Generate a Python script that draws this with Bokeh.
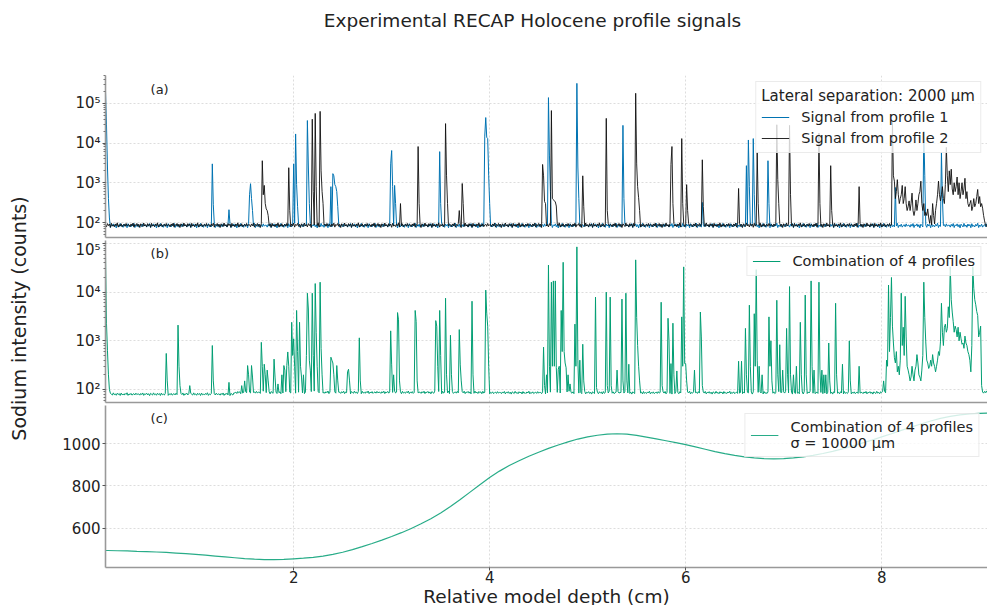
import math
from bokeh.plotting import figure
from bokeh.layouts import column, row
from bokeh.models import (Range1d, FixedTicker, CustomJSTickFormatter, Label,
                          Legend, LegendItem)
from bokeh.embed import file_html
from bokeh.resources import INLINE

# ---------------- data ----------------
X_START = 0.08
X_STEP = 0.01
N_POINTS = 901  # 0.08 .. 9.08 cm

# hand-read baseline jitter (relative), cycled along the profile
BASE_JITTER = [1.02, 0.91, 1.07, 0.96, 1.12, 0.89, 1.04, 0.98, 1.10, 0.93, 1.05,
               0.87, 1.08, 1.00, 0.92, 1.13, 0.95, 1.03, 0.90, 1.09, 0.97, 1.06,
               0.88, 1.11, 0.94, 1.01, 0.92, 1.07, 0.97, 1.14, 0.89, 1.03, 0.95,
               1.08, 0.91, 1.00, 1.05, 0.93, 1.10, 0.96, 1.02]

PROFILE1_BASE = 84
PROFILE2_BASE = 86
COMBINED_BASE = [(0.08, 80), (1.40, 87), (4.00, 86), (8.00, 88)]

# (depth cm, counts), blue
PROFILE1_PEAKS = [
    (0.08, 200000), (0.09, 30000), (0.10, 2500), (0.11, 400), (0.12, 130),
    (1.17, 3000), (1.18, 280), (1.34, 210),
    (1.55, 500), (1.56, 950), (1.57, 400), (1.58, 200),
    (2.00, 3000), (2.02, 17000), (2.03, 900), (2.04, 250),
    (2.14, 37000), (2.15, 2500), (2.16, 300),
    (2.38, 800), (2.40, 1700), (2.41, 1500), (2.42, 900), (2.43, 800), (2.44, 600), (2.45, 250),
    (2.99, 3000), (3.00, 6500), (3.01, 800), (3.03, 860), (3.04, 300),
    (3.49, 6100), (3.50, 300),
    (3.95, 15000), (3.96, 44000), (3.97, 14000), (3.98, 13000), (3.99, 1500), (4.00, 300),
    (4.60, 140000), (4.61, 5000), (4.62, 600),
    (4.89, 320000), (4.90, 2500), (4.91, 400),
    (5.36, 28000), (5.37, 400),
    (6.17, 320),
    (6.62, 2700), (6.64, 12000), (6.65, 800), (6.69, 13000), (6.70, 500),
    (6.84, 3600), (6.85, 300),
    (8.14, 760), (8.43, 20000), (8.44, 1500), (8.61, 5800), (8.62, 400),
]

# panel (a), black
PROFILE2_PEAKS = [
    (1.68, 3600), (1.69, 500), (1.70, 860), (1.71, 300), (1.72, 220), (1.73, 200), (1.74, 150),
    (1.95, 2400), (1.96, 200),
    (2.19, 40000), (2.20, 600), (2.22, 56000), (2.23, 800), (2.27, 63000), (2.28, 2000),
    (2.29, 600), (2.30, 300),
    (3.09, 300), (3.27, 8200), (3.28, 300),
    (3.55, 31000), (3.56, 1500), (3.57, 300),
    (3.69, 200), (3.72, 960), (3.73, 300),
    (4.54, 2900), (4.55, 1500), (4.56, 340), (4.57, 300),
    (4.63, 66000), (4.64, 400), (4.65, 380), (4.66, 350), (4.67, 330), (4.68, 260),
    (4.95, 1500), (4.96, 250),
    (5.19, 42000), (5.20, 200),
    (5.49, 180000), (5.50, 3000), (5.51, 800), (5.52, 420), (5.53, 200),
    (5.85, 2900), (5.86, 8200), (5.87, 300),
    (5.96, 13000), (5.97, 300), (6.01, 900), (6.02, 200),
    (6.17, 3800), (6.18, 250), (6.54, 720),
    (6.73, 5800), (6.74, 300),
    (6.93, 29000), (6.94, 1200), (6.95, 300),
    (7.06, 28000), (7.07, 500),
    (7.36, 18000), (7.37, 300),
    (7.48, 2700), (7.49, 200), (7.77, 800),
    (8.11, 33000), (8.12, 1500), (8.13, 1100), (8.14, 400), (8.15, 600), (8.16, 1200),
    (8.17, 500), (8.18, 300), (8.19, 400), (8.20, 500), (8.21, 860), (8.22, 300),
    (8.23, 400), (8.24, 800), (8.25, 300), (8.26, 200), (8.27, 250), (8.28, 350),
    (8.29, 200), (8.30, 300), (8.31, 550), (8.32, 200), (8.33, 150), (8.34, 200),
    (8.35, 370), (8.36, 200), (8.37, 300), (8.38, 500), (8.39, 600), (8.40, 1100),
    (8.41, 300), (8.42, 200), (8.43, 300), (8.44, 150), (8.45, 180), (8.46, 150),
    (8.47, 220), (8.48, 130), (8.50, 150), (8.52, 300), (8.53, 150), (8.55, 200),
    (8.56, 300), (8.57, 500), (8.58, 1100), (8.59, 500), (8.60, 350), (8.61, 500),
    (8.62, 800), (8.63, 400), (8.64, 300), (8.65, 900), (8.66, 7800), (8.67, 1500),
    (8.68, 600), (8.69, 2000), (8.70, 900), (8.71, 2200), (8.72, 700), (8.73, 500),
    (8.74, 1000), (8.75, 600), (8.76, 800), (8.77, 1400), (8.78, 500), (8.79, 1000),
    (8.80, 400), (8.81, 600), (8.82, 1000), (8.83, 500), (8.84, 700), (8.85, 1300),
    (8.86, 400), (8.87, 600), (8.88, 300), (8.89, 250), (8.90, 300), (8.91, 360),
    (8.92, 200), (8.93, 250), (8.94, 400), (8.95, 250), (8.96, 300), (8.97, 450),
    (8.98, 680), (8.99, 300), (9.00, 450), (9.01, 250), (9.02, 300), (9.03, 230),
    (9.04, 150), (9.05, 110),
]

# panel (b), green
COMBINED_PEAKS = [
    (0.08, 57000), (0.09, 2300), (0.10, 640), (0.11, 200), (0.12, 100),
    (0.70, 550), (0.71, 150), (0.82, 2100), (0.83, 300), (0.84, 120), (0.94, 120),
    (1.17, 800), (1.18, 150), (1.34, 140), (1.47, 120), (1.50, 150),
    (1.53, 310), (1.54, 200), (1.57, 310), (1.58, 180),
    (1.67, 930), (1.68, 300), (1.70, 330), (1.71, 200), (1.73, 250), (1.74, 150),
    (1.80, 420), (1.81, 180), (1.84, 130),
    (1.88, 200), (1.90, 310), (1.91, 250), (1.93, 310), (1.94, 590), (1.95, 300),
    (1.98, 2400), (1.99, 500), (2.00, 1100), (2.01, 300), (2.03, 4200), (2.04, 600),
    (2.06, 2400), (2.07, 300), (2.08, 180), (2.10, 200),
    (2.13, 500), (2.14, 9500), (2.15, 4500), (2.16, 400), (2.17, 250), (2.19, 9500),
    (2.20, 500), (2.22, 15000), (2.23, 1500), (2.24, 300), (2.27, 16000), (2.28, 700),
    (2.29, 200),
    (2.38, 460), (2.39, 400), (2.40, 350), (2.41, 200), (2.44, 310), (2.45, 150),
    (2.55, 230), (2.56, 260), (2.57, 150), (2.67, 1150), (2.68, 150),
    (2.99, 1600), (3.00, 320), (3.02, 200), (3.06, 3800), (3.07, 2700), (3.08, 150),
    (3.24, 4200), (3.25, 2500), (3.26, 150),
    (3.45, 2600), (3.46, 2000), (3.47, 300), (3.49, 4200), (3.50, 500),
    (3.55, 7500), (3.56, 200), (3.60, 1300), (3.61, 200),
    (3.69, 1700), (3.70, 320), (3.71, 150), (3.82, 6500), (3.83, 200),
    (3.96, 11000), (3.97, 3700), (3.98, 2000), (3.99, 300),
    (4.55, 740), (4.56, 120), (4.58, 200), (4.60, 36000), (4.61, 300), (4.63, 16000),
    (4.64, 300), (4.65, 17000), (4.66, 300), (4.67, 17000), (4.68, 280), (4.70, 260),
    (4.71, 300), (4.73, 4200), (4.74, 600), (4.75, 41000), (4.76, 600), (4.77, 350),
    (4.78, 280), (4.80, 200), (4.82, 130),
    (4.87, 2200), (4.88, 300), (4.89, 85000), (4.90, 400), (4.92, 400), (4.95, 850),
    (4.96, 150),
    (5.08, 7900), (5.09, 110), (5.19, 10000), (5.20, 120), (5.23, 7900), (5.24, 120),
    (5.30, 250), (5.35, 7200), (5.36, 150), (5.39, 9500), (5.40, 150), (5.42, 330),
    (5.49, 46000), (5.50, 3000), (5.51, 800), (5.52, 300), (5.53, 150),
    (5.75, 6200), (5.76, 120), (5.82, 2900), (5.83, 1000), (5.85, 340), (5.87, 2300),
    (5.88, 200), (5.91, 240), (5.96, 3100), (5.97, 300), (5.98, 33000), (5.99, 340),
    (6.00, 340), (6.01, 150), (6.09, 250), (6.15, 3900), (6.16, 1200), (6.17, 120),
    (6.54, 380), (6.57, 380), (6.61, 1800), (6.62, 200), (6.65, 5400), (6.66, 300),
    (6.70, 3600), (6.71, 300), (6.72, 29000), (6.73, 400), (6.75, 300), (6.78, 200),
    (6.85, 3100), (6.86, 300), (6.87, 1000), (6.88, 150), (6.93, 6800), (6.94, 200),
    (6.96, 830), (6.99, 250), (7.03, 1800), (7.04, 200), (7.06, 13000), (7.07, 200),
    (7.10, 200), (7.13, 300), (7.17, 2400), (7.18, 200), (7.22, 8700), (7.23, 200),
    (7.28, 17000), (7.29, 300), (7.31, 250), (7.36, 16000), (7.37, 250), (7.39, 250),
    (7.41, 200), (7.43, 200), (7.46, 900), (7.47, 150), (7.53, 5900), (7.54, 200),
    (7.60, 330), (7.67, 1000), (7.68, 150), (7.77, 300),
    (8.02, 150), (8.05, 400), (8.06, 300), (8.07, 14000), (8.08, 600), (8.09, 3000),
    (8.10, 20000), (8.11, 2000), (8.12, 900), (8.13, 450), (8.14, 350), (8.15, 600),
    (8.16, 230), (8.17, 300), (8.18, 200), (8.19, 400), (8.20, 9500), (8.21, 800),
    (8.22, 1900), (8.23, 500), (8.24, 8200), (8.25, 1200), (8.26, 300), (8.27, 250),
    (8.28, 200), (8.29, 150), (8.30, 180), (8.31, 300), (8.32, 200), (8.33, 150),
    (8.34, 250), (8.35, 300), (8.36, 520), (8.37, 350), (8.38, 200), (8.39, 180),
    (8.40, 150), (8.41, 250), (8.42, 500), (8.43, 16000), (8.44, 3000), (8.45, 950),
    (8.46, 400), (8.47, 350), (8.48, 270), (8.49, 300), (8.50, 400), (8.51, 300),
    (8.52, 520), (8.53, 350), (8.54, 300), (8.55, 230), (8.56, 300), (8.57, 400),
    (8.58, 600), (8.59, 500), (8.60, 950), (8.61, 5900), (8.62, 1500), (8.63, 800),
    (8.64, 1900), (8.65, 2200), (8.66, 1500), (8.67, 1800), (8.68, 5000), (8.69, 3000),
    (8.70, 33000), (8.71, 7000), (8.72, 3900), (8.73, 2500), (8.74, 1500), (8.75, 2000),
    (8.76, 1700), (8.77, 1200), (8.78, 1900), (8.79, 1000), (8.80, 1500), (8.81, 1100),
    (8.82, 850), (8.83, 900), (8.84, 700), (8.85, 1250), (8.86, 900), (8.87, 800),
    (8.88, 600), (8.89, 520), (8.90, 400), (8.91, 230), (8.92, 800), (8.93, 33000),
    (8.94, 12000), (8.95, 7000), (8.96, 5500), (8.97, 4000), (8.98, 3300), (8.99, 1200),
    (9.00, 1500), (9.01, 2000), (9.02, 120),
]

# panel (c): smoothed combination, sigma = 10000 um (read every 0.1 cm)
SMOOTH_DEPTH = [0.08, 0.1, 0.2, 0.3, 0.4, 0.5, 0.6, 0.7, 0.8, 0.9, 1.0, 1.1, 1.2, 1.3,
                1.4, 1.5, 1.6, 1.7, 1.8, 1.9, 2.0, 2.1, 2.2, 2.3, 2.4, 2.5, 2.6, 2.7,
                2.8, 2.9, 3.0, 3.1, 3.2, 3.3, 3.4, 3.5, 3.6, 3.7, 3.8, 3.9, 4.0, 4.1,
                4.2, 4.3, 4.4, 4.5, 4.6, 4.7, 4.8, 4.9, 5.0, 5.1, 5.2, 5.3, 5.4, 5.5,
                5.6, 5.7, 5.8, 5.9, 6.0, 6.1, 6.2, 6.3, 6.4, 6.5, 6.6, 6.7, 6.8, 6.9,
                7.0, 7.1, 7.2, 7.3, 7.4, 7.5, 7.6, 7.7, 7.8, 7.9, 8.0, 8.1, 8.2, 8.3,
                8.4, 8.5, 8.6, 8.7, 8.8, 8.9, 9.0, 9.08]
SMOOTH_COUNTS = [496, 496, 495, 494, 492, 491, 489, 487, 484, 481, 478, 474, 470, 466,
                 462, 458, 455, 453, 453, 454, 457, 460, 464, 470, 478, 488, 500, 514,
                 529, 545, 562, 580, 600, 622, 646, 673, 703, 736, 771, 806, 840, 870,
                 896, 919, 940, 959, 977, 993, 1008, 1021, 1031, 1039, 1044, 1046, 1044, 1038,
                 1030, 1022, 1013, 1004, 995, 984, 973, 962, 952, 944, 937, 932, 929, 928,
                 929, 932, 937, 944, 953, 963, 975, 988, 1002, 1016, 1031, 1046, 1062, 1077,
                 1092, 1106, 1118, 1128, 1135, 1140, 1142, 1143]

X_TICKS = [2, 4, 6, 8]
LOG_TICKS = [100, 1000, 10000, 100000]
LIN_TICKS = [600, 800, 1000]

# ---------------- build series ----------------
depth = [round(X_START + X_STEP * i, 2) for i in range(N_POINTS)]


def base_level(levels, x):
    lv = levels[0][1]
    for x0, v in levels:
        if x >= x0:
            lv = v
    return lv


def build(levels, peaks, offset, scale):
    ys = []
    for i, x in enumerate(depth):
        j = BASE_JITTER[(i + offset) % len(BASE_JITTER)]
        ys.append(base_level(levels, x) * (1 + (j - 1) * scale))
    for px, py in peaks:
        k = int(round((px - X_START) / X_STEP))
        if 0 <= k < len(ys):
            ys[k] = max(ys[k], py)
    return ys


sig1 = build([(0, PROFILE1_BASE)], PROFILE1_PEAKS, 0, 1.0)
sig2 = build([(0, PROFILE2_BASE)], PROFILE2_PEAKS, 17, 1.0)
comb = build(COMBINED_BASE, COMBINED_PEAKS, 7, 0.5)

# ---------------- styling ----------------
FONT = "DejaVu Sans"
TXT = "#222222"
BLUE = "#0173b2"
GREEN = "#029e73"
AXIS_GREY = "#999999"
GRID_GREY = "#d4d4d4"
LEFT_STRIP = 40
FRAME_LEFT = 105
FRAME_W = 882

sup_formatter = CustomJSTickFormatter(code="""
const sup = {'0':'\u2070','1':'\u00b9','2':'\u00b2','3':'\u00b3','4':'\u2074',
             '5':'\u2075','6':'\u2076','7':'\u2077','8':'\u2078','9':'\u2079','-':'\u207b'};
const e = Math.round(Math.log10(tick));
return '10' + String(e).split('').map(c => sup[c]).join('');
""")

log_minor = []
for dec in [10, 100, 1000, 10000, 100000]:
    for m in range(2, 10):
        log_minor.append(dec * m)

x_range = Range1d(X_START, 9.08)


def make_fig(y_range, log, top, bottom, show_x):
    p = figure(frame_width=FRAME_W, frame_height=162, x_range=x_range, y_range=y_range,
               y_axis_type="log" if log else "linear",
               min_border_left=FRAME_LEFT - LEFT_STRIP, min_border_right=0,
               min_border_top=top, min_border_bottom=bottom,
               toolbar_location=None, output_backend="svg")
    p.outline_line_color = None
    p.background_fill_color = "white"
    p.border_fill_color = "white"
    p.xaxis.ticker = FixedTicker(ticks=X_TICKS if show_x else [])
    p.xgrid.ticker = FixedTicker(ticks=X_TICKS)
    for g in p.grid:
        g.grid_line_color = GRID_GREY
        g.grid_line_dash = "2 2"
        g.grid_line_width = 0.8
    for ax in p.axis:
        ax.axis_line_color = AXIS_GREY
        ax.axis_line_width = 1.6
        ax.major_tick_line_color = "#555555"
        ax.minor_tick_line_color = "#777777"
        ax.major_tick_in = 0
        ax.major_tick_out = 3
        ax.minor_tick_in = 0
        ax.minor_tick_out = 2
        ax.major_label_text_font = FONT
        ax.major_label_text_font_size = "15px"
        ax.major_label_text_color = TXT
        ax.major_label_standoff = 2
    p.xaxis.minor_tick_line_color = None
    if not show_x:
        p.xaxis.major_tick_out = 0
        p.xaxis.major_label_standoff = 0
    if log:
        p.yaxis.ticker = FixedTicker(ticks=LOG_TICKS, minor_ticks=log_minor)
        p.yaxis.formatter = sup_formatter
    else:
        p.yaxis.ticker = FixedTicker(ticks=LIN_TICKS)
        p.yaxis.minor_tick_line_color = None
    return p


def style_legend(lg, margin):
    lg.location = "top_right"
    lg.margin = margin
    lg.label_text_font = FONT
    lg.label_text_font_size = "14.5px"
    lg.label_text_color = TXT
    lg.label_height = 18
    lg.glyph_width = 28
    lg.glyph_height = 18
    lg.label_standoff = 12
    lg.padding = 5
    lg.spacing = 3
    lg.background_fill_alpha = 0.8
    lg.border_line_color = "#d8d8d8"
    lg.border_line_width = 1


def text_strip(width, height, frame_w, label, border_left=0):
    f = figure(width=width, height=height, x_range=Range1d(0, frame_w),
               y_range=Range1d(0, height), min_border=0, min_border_left=border_left,
               toolbar_location=None, output_backend="svg")
    f.axis.visible = False
    f.grid.visible = False
    f.outline_line_color = None
    f.add_layout(label)
    return f


# title strip: its frame lines up with the panel frames (page x 105 .. 987)
title_fig = text_strip(987 - LEFT_STRIP, 40, FRAME_W,
                       Label(x=532 - FRAME_LEFT, y=20,
                             text="Experimental RECAP Holocene profile signals",
                             text_font=FONT, text_font_size="18.5px", text_align="center",
                             text_baseline="middle", text_color=TXT),
                       border_left=FRAME_LEFT - LEFT_STRIP)

# shared y label strip
ylabel_fig = text_strip(LEFT_STRIP, 605, LEFT_STRIP,
                        Label(x=18, y=605 - 318, text="Sodium intensity (counts)",
                              angle=math.pi / 2, text_font=FONT, text_font_size="19px",
                              text_align="center", text_baseline="middle", text_color=TXT))

# panel (a)
p1 = make_fig(Range1d(41.9, 5.05e5), True, 35, 3, False)
r1 = p1.line(depth, sig1, line_color=BLUE, line_width=1.0)
r2 = p1.line(depth, sig2, line_color="#111111", line_width=1.0, line_alpha=0.9)
lg1 = Legend(items=[LegendItem(label="Signal from profile 1", renderers=[r1]),
                    LegendItem(label="Signal from profile 2", renderers=[r2])],
             title="Lateral separation: 2000 \u00b5m")
style_legend(lg1, 6)
lg1.title_text_font = FONT
lg1.title_text_font_size = "15px"
lg1.title_text_font_style = "normal"
lg1.title_text_color = TXT
lg1.title_standoff = 3
p1.add_layout(lg1)
p1.add_layout(Label(x=0.54, y=2.2e5, text="(a)", text_font=FONT, text_font_size="13px",
                    text_baseline="middle", text_color=TXT))

# panel (b)
p2 = make_fig(Range1d(54, 1.15e5), True, 0, 3, False)
r3 = p2.line(depth, comb, line_color=GREEN, line_width=1.0)
lg2 = Legend(items=[LegendItem(label="Combination of 4 profiles", renderers=[r3])])
style_legend(lg2, 6)
p2.add_layout(lg2)
p2.add_layout(Label(x=0.54, y=6.3e4, text="(b)", text_font=FONT, text_font_size="13px",
                    text_baseline="middle", text_color=TXT))

# panel (c)
p3 = make_fig(Range1d(416, 1179), False, 0, 38, True)
p3.xaxis.major_label_standoff = 0
r4 = p3.line(SMOOTH_DEPTH, SMOOTH_COUNTS, line_color=GREEN, line_width=1.2, line_alpha=0.85)
lg3 = Legend(items=[LegendItem(label="Combination of 4 profiles\n\u03c3 = 10000 \u00b5m",
                               renderers=[r4])])
style_legend(lg3, 8)
p3.add_layout(lg3)
p3.add_layout(Label(x=0.54, y=1118, text="(c)", text_font=FONT, text_font_size="13px",
                    text_baseline="middle", text_color=TXT))
p3.xaxis.axis_label = "Relative model depth (cm)"
p3.xaxis.axis_label_text_font = FONT
p3.xaxis.axis_label_text_font_size = "18.5px"
p3.xaxis.axis_label_text_font_style = "normal"
p3.xaxis.axis_label_text_color = TXT
p3.xaxis.axis_label_standoff = 0

layout = row(ylabel_fig, column(title_fig, p1, p2, p3, spacing=0), spacing=0)
open("out.html", "w").write(file_html(layout, INLINE))
